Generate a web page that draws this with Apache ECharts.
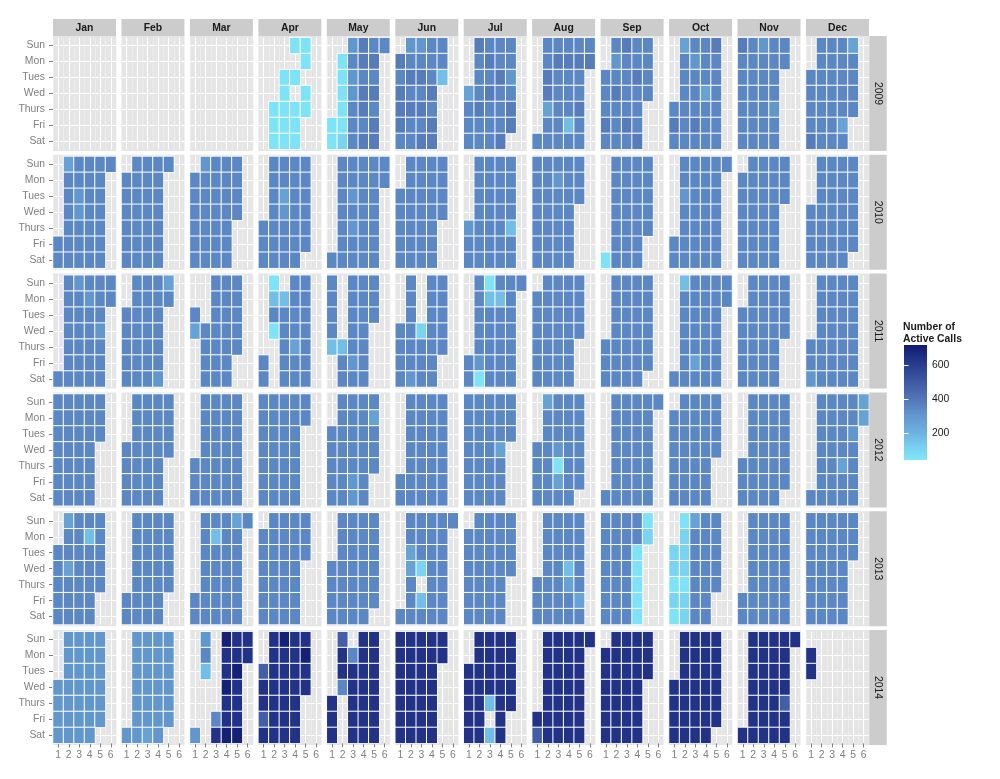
<!DOCTYPE html>
<html>
<head>
<meta charset="utf-8">
<script src="https://cdn.jsdelivr.net/npm/echarts@6.0.0/dist/echarts.min.js"></script>
<style>
html,body{margin:0;padding:0;background:#ffffff;}
#chart{width:1000px;height:779px;}
</style>
</head>
<body>
<div id="chart"></div>
<script>
// ---------------- data ----------------
const years = [2009, 2010, 2011, 2012, 2013, 2014];
const months = ['Jan','Feb','Mar','Apr','May','Jun','Jul','Aug','Sep','Oct','Nov','Dec'];
const weekdays = ['Sun','Mon','Tues','Wed','Thurs','Fri','Sat'];
const weekOfMonth = ['1','2','3','4','5','6'];
const legendTicks = [200, 400, 600];
const legendMin = 40;
const legendMax = 720;

// estimated number of active calls for each shade
const levelValue = { a: 50, b: 100, c: 170, d: 260, e: 300, f: 345, g: 380, h: 480, i: 580, j: 640, k: 700 };

// one string per month, one character per day of the month ('.' = no data)
const calls2009 = [
  '', '', '',
  '........aa a..aaaaaa. a.aaaaa.aa',
  'aa.aaaaabe feefffggfg gfgfgfgfgg f',
  'gfgggfefgf gffefgfgfg fffgfggffc',
  'dfffgfffgf ffgfgfffff gfffgffefg g',
  'fffggdfffg ffffffgfff cffgffgfff g',
  'fffgffefgf ffgffffgff fgfffgffff',
  'fgfdffffff fefffgffff dfffgfffff f',
  'gfffffffff ffffefffff fffffeffff',
  'ffffgfffff ffffffffff ffffdfdfff f'
];
const calls2010 = [
  'ffdfffffff feefffffff ffffffffff f',
  'ffffffffff ffffffffff ffffffff',
  'ffffffefff ffffffffff ffffffffff f',
  'ffffffffff ffdeffffff ffffffffff',
  'ffffffffff efefffffff ffffffffff f',
  'ffffffffff ffffffffff ffffffffff',
  'efffffffff ffffffffff ffffffffcf f',
  'ffffffffff fffffeffff ffffffffff f',
  '...affffff ffffffffff ffffffffff',
  'ffffefffff ffffffffff ffffffffff f',
  'ffffffffff ffffffffff ffffffffff',
  'ffffffffff ffffffffff ffffffffff f'
];
const calls2011 = [
  'ffffffffef ffffffefff fffffeffff f',
  'ffffffffff ffffffffff fffffedf',
  'fd......ff ffffffffff ffffffffff f',
  'ffacfa.... cfffffffff dfffffffff',
  'ffffc..... .cfffffffe ffffffffff f',
  'ffffffffff e...bfffff ffffffffff',
  'fffffffeaa cffffffcff ffffffffff f',
  'ffffffffff ffffffffff ffffffffff f',
  'ffffffffff ffffffffff ffffffffff',
  'fcffffffff fffdffffff ffffffffff f',
  'ffffffffff ffffffffff ffffffffff',
  'ffefffffff ffffffffff ffffffffff f'
];
const calls2012 = [
  'ffffffffff ffffffffff ffffffffff f',
  'ffffffffff ffffffffff fffffffff',
  'ffffffffff ffffffffff ffffffffff f',
  'ffffffffff ffffffffff ffffffffff',
  'ffffffffff fffffffeef fffffffdff f',
  'ffffffffff ffffffffff ffffffffff',
  'ffffffffff ffffffffff ffffdfffff f',
  'ffffdfffff ffffeadfff ffffffffff f',
  'ffffffffff ffffffffff ffffffffff',
  'ffffffffff ffffffffff ffffffffff f',
  'ffffffffff ffffffffff ffffffffff',
  'ffffffffff fffffffffd ffffeffffd d'
];
const calls2013 = [
  'fffffdffdf ffffffffff cfffffffff f',
  'ffffffffff ffffffffff ffffffff',
  'ffffffffff cfffffffff fffdffffff f',
  'ffffffffff ffffffffff ffffffffff',
  'ffffffffff ffffffffff ffffffffff f',
  'fffddfffff fb.cffffff ffffffffff',
  'ffffffffff ffffffffff ffffffffff f',
  'ffffffffff ffffffffff cdfffffffd f',
  'ffffffffff ffffffffff fffaaaaaab',
  'bbabaabbba bbdfffffff ffffffffff f',
  'ffffffffff ffffffffff ffffffffff',
  'ffffffffff ffffffffff ffffffffff f'
];
const calls2014 = [
  'eeeeeeeeee eeeeeeeeee eeeeeeeeee e',
  'eeeeeeeeee eeeedeeeee eeeeeeee',
  'eefc...... ...fjkjjkj jkjjkjjjkj j',
  'hjjhjjjjjj jjkjjjjjjj jjjjjjjkjj',
  'jjjhjjf... .fjjjjjjjj jjjjjjjjjj j',
  'jjjjjjjjjj jjjjjjjjjj jjjjjjjjjj',
  'jjjjjjjjjj jjjjjjc.cj jjjjjjjjjj j',
  'jhjjjjjjjj jjjjjjjjjj jjjjjjjjjj j',
  'jjjjjjjjjj jjjjjjjjjj jjjjjjjjjj',
  'jjjjjjjjjj jjjjjjjjjj jjjjjjjjjj j',
  'jjjjjjjjjj jjjjjjjjjj jjjjjjhjjj',
  'jj'
];
const callsByYear = [calls2009, calls2010, calls2011, calls2012, calls2013, calls2014];

// colour scale (low -> high)
const colorScale = ['#80e6f8', '#78cdee', '#6cb0de', '#6399cf', '#567cbc', '#4763ab', '#334c98', '#233488', '#0f1b6f'];

// ---------------- layout ----------------
const FONT = '"Liberation Sans", Arial, sans-serif';
const LAY = {
  left: 53, stepX: 68.45, panelW: 63,
  top: 36, stepY: 118.8, panelH: 115, insetY: 1.6,
  stripH: 17, stripW: 17.5,
  legLeft: 904, legTop: 345, legW: 23, legH: 115
};

function monthCells(yr, mi, codes) {
  const s = codes.replace(/\s+/g, '');
  const first = new Date(Date.UTC(yr, mi, 1)).getUTCDay();
  const out = [];
  for (let d = 1; d <= s.length; d++) {
    const ch = s[d - 1];
    if (ch === '.') continue;
    const pos = first + d - 1;
    out.push([Math.floor(pos / 7), pos % 7, levelValue[ch]]);
  }
  return out;
}

const grids = [], xAxes = [], yAxes = [], series = [], graphics = [];
const heatIdx = [];

years.forEach((yr, yi) => {
  months.forEach((mn, mi) => {
    const gi = grids.length;
    const pLeft = LAY.left + mi * LAY.stepX;
    const pTop = LAY.top + yi * LAY.stepY;
    const isBottom = yi === years.length - 1;
    const isLeft = mi === 0;
    // panel background
    graphics.push({ type: 'rect', z: -100, silent: true,
      shape: { x: pLeft, y: pTop, width: LAY.panelW, height: LAY.panelH },
      style: { fill: '#e5e5e5' } });
    grids.push({ left: pLeft, top: pTop + LAY.insetY, width: LAY.panelW,
      height: LAY.panelH - 2 * LAY.insetY, show: false, containLabel: false });
    // category axes (cells)
    xAxes.push({ gridIndex: gi, type: 'category', data: weekOfMonth, position: 'bottom',
      boundaryGap: true, axisLine: { show: false },
      axisTick: { show: isBottom, alignWithLabel: true, length: 4, lineStyle: { color: '#7f7f7f' } },
      axisLabel: { show: isBottom, color: '#7f7f7f', fontSize: 10.4, fontFamily: FONT, margin: 7, interval: 0 },
      splitLine: { show: false } });
    yAxes.push({ gridIndex: gi, type: 'category', data: weekdays, inverse: true, position: 'left',
      boundaryGap: true, axisLine: { show: false },
      axisTick: { show: isLeft, alignWithLabel: true, length: 4, lineStyle: { color: '#7f7f7f' } },
      axisLabel: { show: isLeft, color: '#7f7f7f', fontSize: 10.4, fontFamily: FONT, margin: 8, interval: 0 },
      splitLine: { show: false } });
    // value axes carrying the panel grid lines
    xAxes.push({ gridIndex: gi, type: 'value', position: 'top', min: 0.5, max: 6.5, interval: 1,
      axisLine: { show: false }, axisTick: { show: false }, axisLabel: { show: false },
      splitLine: { show: true, lineStyle: { color: '#f2f2f2', width: 0.6 } },
      minorTick: { show: false, splitNumber: 2 },
      minorSplitLine: { show: true, lineStyle: { color: '#ffffff', width: 1.1 } } });
    yAxes.push({ gridIndex: gi, type: 'value', position: 'right', min: 0.5, max: 7.5, interval: 1,
      axisLine: { show: false }, axisTick: { show: false }, axisLabel: { show: false },
      splitLine: { show: false },
      minorTick: { show: false, splitNumber: 2 },
      minorSplitLine: { show: true, lineStyle: { color: '#ffffff', width: 1.1 } } });
    heatIdx.push(series.length);
    series.push({ type: 'heatmap', xAxisIndex: 2 * gi, yAxisIndex: 2 * gi,
      data: monthCells(yr, mi, callsByYear[yi][mi] || ''),
      itemStyle: { borderColor: '#ffffff', borderWidth: 1 },
      emphasis: { disabled: true }, silent: true, progressive: 0 });
  });
  // year strip
  const sx = LAY.left + 11 * LAY.stepX + LAY.panelW + 0.3;
  const sy = LAY.top + yi * LAY.stepY;
  graphics.push({ type: 'rect', z: 5, silent: true,
    shape: { x: sx, y: sy, width: LAY.stripW, height: LAY.panelH }, style: { fill: '#cccccc' } });
  graphics.push({ type: 'text', z: 6, silent: true, x: sx + LAY.stripW / 2, y: sy + LAY.panelH / 2,
    rotation: -Math.PI / 2,
    style: { text: String(yr), align: 'center', verticalAlign: 'middle',
      font: '10.4px ' + FONT, fill: '#1a1a1a' } });
});

// month strips
months.forEach((mn, mi) => {
  const x = LAY.left + mi * LAY.stepX;
  const y = LAY.top - LAY.stripH;
  graphics.push({ type: 'rect', z: 5, silent: true,
    shape: { x: x, y: y, width: LAY.panelW, height: LAY.stripH }, style: { fill: '#cccccc' } });
  graphics.push({ type: 'text', z: 6, silent: true, x: x + LAY.panelW / 2, y: y + LAY.stripH / 2 + 0.5,
    style: { text: mn, align: 'center', verticalAlign: 'middle',
      font: 'bold 10.4px ' + FONT, fill: '#1a1a1a' } });
});

// legend colour bar grid
const legGrid = grids.length;
grids.push({ left: LAY.legLeft, top: LAY.legTop, width: LAY.legW, height: LAY.legH, show: false });
const legX = xAxes.length;
xAxes.push({ gridIndex: legGrid, type: 'value', min: 0, max: 1, show: false });
const legY = yAxes.length;
yAxes.push({ gridIndex: legGrid, type: 'value', min: legendMin, max: legendMax, position: 'right',
  axisLine: { show: false }, splitLine: { show: false },
  axisTick: { show: true, inside: true, length: 4.5, customValues: legendTicks, lineStyle: { color: '#ffffff', width: 1 } },
  axisLabel: { show: true, customValues: legendTicks, color: '#1a1a1a', fontSize: 10.4, fontFamily: FONT, margin: 5 } });
yAxes.push({ gridIndex: legGrid, type: 'value', min: legendMin, max: legendMax, position: 'left',
  axisLine: { show: false }, splitLine: { show: false },
  axisTick: { show: true, inside: true, length: 4.5, customValues: legendTicks, lineStyle: { color: '#ffffff', width: 1 } },
  axisLabel: { show: false } });
series.push({ type: 'custom', xAxisIndex: legX, yAxisIndex: legY, z: -1, silent: true,
  data: [[0.5, legendMin]],
  renderItem: function (params, api) {
    const cs = params.coordSys;
    const stops = colorScale.map((c, i) => ({ offset: i / (colorScale.length - 1), color: c }));
    return { type: 'rect', shape: { x: cs.x, y: cs.y, width: cs.width, height: cs.height },
      style: { fill: new echarts.graphic.LinearGradient(0, 1, 0, 0, stops) } };
  } });

const chart = echarts.init(document.getElementById('chart'), null, { renderer: 'canvas' });
chart.setOption({
  animation: false,
  backgroundColor: '#ffffff',
  textStyle: { fontFamily: FONT },
  title: { text: 'Number of\nActive Calls', left: 903, top: 321, padding: 0,
    textStyle: { fontSize: 10.4, fontWeight: 'bold', color: '#1a1a1a', lineHeight: 12, fontFamily: FONT } },
  grid: grids,
  xAxis: xAxes,
  yAxis: yAxes,
  visualMap: { type: 'continuous', show: false, min: legendMin, max: legendMax, dimension: 2,
    seriesIndex: heatIdx, inRange: { color: colorScale } },
  graphic: { elements: graphics },
  series: series
});
</script>
</body>
</html>
